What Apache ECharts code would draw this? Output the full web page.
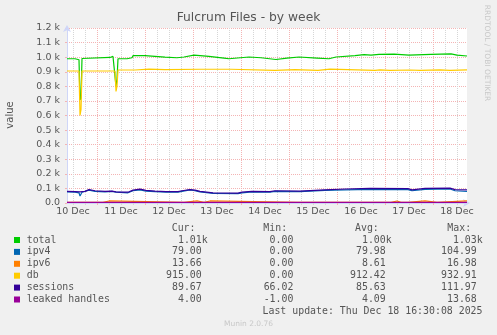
<!DOCTYPE html>
<html>
<head>
<meta charset="utf-8">
<script src="https://cdn.jsdelivr.net/npm/echarts@6/dist/echarts.min.js"></script>
<style>
html,body{margin:0;padding:0;background:#f0f0f0;}
#chart{width:497px;height:335px;}
</style>
</head>
<body>
<div id="chart"></div>
<script>
// ---- Data (time axis: 30-minute samples, sample 0 = 10 Dec 09:00) ----
const sampleCount = 401;
const firstHour = 9;                 // hour of day of sample 0
const dayLabels = ['10 Dec','11 Dec','12 Dec','13 Dec','14 Dec','15 Dec','16 Dec','17 Dec','18 Dec'];
const yTickLabels = ['0.0','0.1 k','0.2 k','0.3 k','0.4 k','0.5 k','0.6 k','0.7 k','0.8 k','0.9 k','1.0 k','1.1 k','1.2 k'];

// [sample, value]
const totalData = [[0,989],[8,989],[9,982],[12,982],[13,706],[14,720],[15,991],[17,998],[43,998],[44,1005],[46,1005],[47,998],[48,998],[49,800],[50,850],[51,989],[60,989],[61,996],[65,996],[66,1010],[78,1010],[79,1003],[98,1000],[99,996],[110,996],[111,1001],[117,1001],[118,1014],[127,1014],[128,1005],[142,1005],[143,994],[157,994],[158,989],[162,989],[163,1001],[182,1001],[183,996],[194,996],[195,986],[209,984],[210,994],[220,994],[221,1001],[232,1001],[233,994],[250,994],[251,989],[262,989],[263,1001],[269,1001],[270,1010],[288,1010],[289,1017],[297,1017],[298,1014],[304,1014],[305,1019],[312,1019],[313,1021],[327,1021],[328,1014],[342,1014],[343,1019],[364,1019],[365,1023],[384,1023],[385,1014],[390,1014],[391,1008],[400,1008]];
const ipv4Data = [[0,76],[8,74],[12,70],[13,48],[14,55],[15,74],[22,88],[28,80],[38,76],[45,80],[49,74],[50,62],[51,70],[61,70],[66,84],[73,90],[79,82],[88,78],[99,74],[111,74],[115,80],[123,90],[128,84],[133,76],[146,66],[171,64],[175,70],[185,76],[203,74],[208,80],[233,78],[258,86],[278,90],[303,94],[341,92],[345,84],[358,94],[383,96],[388,84],[400,79]];
const ipv6Data = [[0,4],[36,4],[37,14],[42,14],[43,4],[117,4],[118,15],[130,15],[131,4],[137,4],[138,14],[143,14],[144,4],[230,4],[231,12],[232,4],[269,4],[270,13],[271,4],[277,4],[278,13],[279,4],[324,4],[325,14],[330,14],[331,4],[334,4],[335,13],[336,4],[341,4],[342,15],[358,15],[359,4],[370,4],[371,15],[400,14]];
const dbData = [[0,905],[12,905],[13,600],[14,640],[15,905],[48,905],[49,765],[50,800],[51,912],[68,912],[69,918],[82,918],[83,912],[98,915],[133,917],[164,917],[165,909],[208,909],[209,914],[228,914],[229,909],[251,909],[252,918],[263,918],[264,909],[308,909],[313,913],[323,909],[343,912],[353,909],[373,913],[383,909],[400,913]];
const sessionsData = [[0,80],[8,78],[13,76],[18,80],[22,92],[28,84],[38,80],[45,82],[49,76],[53,74],[61,74],[66,88],[73,95],[79,86],[88,82],[99,78],[111,78],[115,84],[123,92],[128,88],[133,80],[146,70],[171,68],[175,74],[185,80],[203,78],[208,84],[233,82],[258,90],[278,96],[303,100],[341,99],[345,90],[358,100],[383,102],[388,92],[400,90]];
const leakedData = [[0,4],[400,4]];

const seriesNames = ['total','ipv4','ipv6','db','sessions','leaked handles'];
const seriesColors = ['#00CC00','#0066B3','#FF8000','#FFCC00','#330099','#990099'];
const curVals = ['1.01k','79.00','13.66','915.00','89.67','4.00'];
const minVals = ['0.00','0.00','0.00','0.00','66.02','-1.00'];
const avgVals = ['1.00k','79.98','8.61','912.42','85.63','4.09'];
const maxVals = ['1.03k','104.99','16.98','932.91','111.97','13.68'];
const lastUpdate = 'Last update: Thu Dec 18 16:30:08 2025';

// ---- Build ----
const seriesData = [totalData, ipv4Data, ipv6Data, dbData, sessionsData, leakedData];
const categories = Array.from({length: sampleCount}, (_, i) => String(i));
const samplesPerDay = 48;
const noonIdx = (12 - firstHour) * 2;      // first noon sample
const midnightIdx = (24 - firstHour) * 2;  // first midnight sample
const isMinor = (i) => ((i - noonIdx) % 12 + 12) % 12 === 0;
const isMajor = (i) => ((i - midnightIdx) % samplesPerDay + samplesPerDay) % samplesPerDay === 0;
const isLabel = (i) => ((i - noonIdx) % samplesPerDay + samplesPerDay) % samplesPerDay === 0;

const textColor = '#555';
const mono = '"DejaVu Sans Mono", monospace';
const monoFont = '9.9px ' + mono;

const graphics = [];
function txt(x, y, text, opts) {
  opts = opts || {};
  graphics.push({
    type: 'text', x: x, y: y, rotation: opts.rotation || 0, silent: true,
    style: {
      text: text, font: opts.font || monoFont, fill: opts.fill || textColor,
      align: opts.align || 'left', verticalAlign: 'middle',
      textAlign: opts.align || 'left', textVerticalAlign: 'middle'
    }
  });
}
txt(248.5, 18, 'Fulcrum Files - by week', {font: '12.3px "DejaVu Sans"', align: 'center', fill: '#555'});
txt(10, 115, 'value', {font: '10px "DejaVu Sans"', align: 'center', rotation: Math.PI / 2});
txt(487, 53, 'RRDTOOL / TOBI OETIKER', {font: '7.5px "DejaVu Sans"', align: 'center', fill: '#c8c8c8', rotation: -Math.PI / 2});
txt(248.5, 324, 'Munin 2.0.76', {font: '7.5px "DejaVu Sans"', align: 'center', fill: '#c8c8c8'});

const rowY0 = 240, rowStep = 11.9;
txt(171.7, 228, 'Cur:');
txt(263.3, 228, 'Min:');
txt(355, 228, 'Avg:');
txt(447.3, 228, 'Max:');
const fmt = (s) => /[a-z]$/i.test(s) ? s : s + ' ';
seriesNames.forEach((name, k) => {
  const y = rowY0 + k * rowStep;
  graphics.push({type: 'rect', shape: {x: 14, y: y - 3, width: 6, height: 6}, style: {fill: seriesColors[k]}, silent: true});
  txt(26.7, y, name);
  txt(207.7, y, fmt(curVals[k]), {align: 'right'});
  txt(299.3, y, fmt(minVals[k]), {align: 'right'});
  txt(391.7, y, fmt(avgVals[k]), {align: 'right'});
  txt(482.7, y, fmt(maxVals[k]), {align: 'right'});
});
txt(482.5, rowY0 + 6 * rowStep, lastUpdate, {align: 'right'});

const axisColor = '#CFD6F8';
const minorColor = '#d6d6d6';
const majorColor = '#f4b4b4';

const chart = echarts.init(document.getElementById('chart'), null, {renderer: 'canvas'});
chart.setOption({
  backgroundColor: '#f0f0f0',
  animation: false,
  grid: {left: 67, right: 30, top: 28, bottom: 132, show: true, backgroundColor: '#ffffff', borderWidth: 0},
  xAxis: [{
    type: 'category', data: categories, boundaryGap: false,
    axisLine: {show: true, lineStyle: {color: axisColor, width: 1}, symbol: ['none', 'arrow'], symbolSize: [6, 7], symbolOffset: [0, 3]},
    axisTick: {show: true, interval: (i) => isMinor(i), length: 2, lineStyle: {color: minorColor}},
    axisLabel: {
      interval: (i) => isLabel(i),
      formatter: (v, i) => dayLabels[Math.round((Number(v) - noonIdx) / samplesPerDay)] || '',
      color: textColor, fontFamily: 'DejaVu Sans', fontSize: 9.5, margin: 4
    },
    splitLine: {show: true, interval: (i) => isMinor(i), lineStyle: {color: minorColor, type: [1, 1], width: 1}}
  }, {
    type: 'category', data: categories, boundaryGap: false, position: 'bottom',
    axisLine: {show: false},
    axisTick: {show: true, interval: (i) => isMajor(i), length: 2, lineStyle: {color: majorColor}},
    axisLabel: {show: false},
    splitLine: {show: true, interval: (i) => isMajor(i), lineStyle: {color: majorColor, type: [1, 1], width: 1}}
  }],
  yAxis: {
    type: 'value', min: 0, max: 1200, interval: 100,
    axisLine: {show: true, lineStyle: {color: axisColor, width: 1}, symbol: ['none', 'arrow'], symbolSize: [6, 7], symbolOffset: [0, 3]},
    axisTick: {show: true, length: 2, lineStyle: {color: majorColor}},
    axisLabel: {
      formatter: (v) => yTickLabels[Math.round(v / 100)],
      color: textColor, fontFamily: 'DejaVu Sans', fontSize: 9.5, margin: 7
    },
    splitLine: {show: true, lineStyle: {color: majorColor, type: [1, 1], width: 1}}
  },
  series: seriesNames.map((name, k) => ({
    name: name, type: 'line', xAxisIndex: 0, yAxisIndex: 0,
    data: seriesData[k], showSymbol: false, symbol: 'none',
    lineStyle: {color: seriesColors[k], width: 1.2},
    itemStyle: {color: seriesColors[k]},
    z: 3 + k
  })),
  graphic: graphics
});
</script>
</body>
</html>
